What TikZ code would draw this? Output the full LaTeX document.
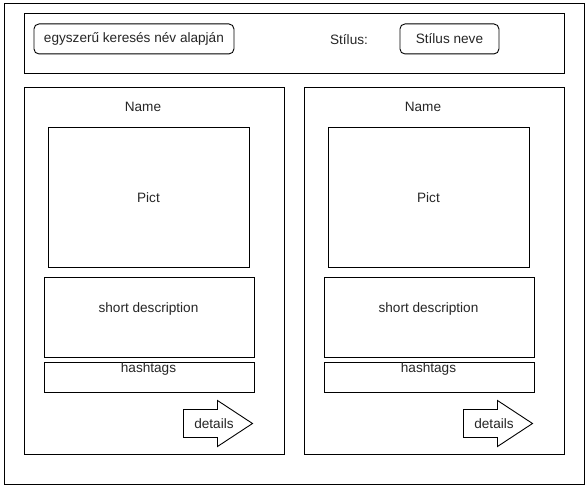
\documentclass[tikz,border=0pt]{standalone}
\usepackage{fontspec}
\setmainfont{Liberation Sans}
\begin{document}
\begin{tikzpicture}[x=1pt,y=-1pt,
  box/.style={draw=black,line width=0.9pt,rectangle,inner sep=0pt,anchor=north west},
  btn/.style={draw=black,line width=0.9pt,rectangle,rounded corners=5pt,inner sep=0pt,anchor=north west},
  lbl/.style={font=\fontsize{13.6}{15}\selectfont,inner sep=0pt,text=black!85}]
\useasboundingbox (0,0) rectangle (587,487);
\fill[white] (0,0) rectangle (587,487);
% outer frame
\node[box,minimum width=580,minimum height=480] (outer) at (3.5,3.5) {};
% top bar
\node[box,minimum width=540,minimum height=60] (bar) at (23.5,13.5) {};
\node[btn,minimum width=200,minimum height=30] (search) at (33.5,23.5) {};
\node[lbl] (searchlbl) at (search.center) {egyszerű keresés név alapján};
\node[lbl] (stlbl) at (349,40) {Stílus:};
\node[btn,minimum width=99,minimum height=30] (style) at (399.5,23.5) {};
\node[lbl] (stylelbl) at (style.center) {Stílus neve};
% cards
\foreach \dx/\n in {0/a,280/b}{
  \node[box,minimum width=260,minimum height=366] (card\n) at (23.5+\dx,87.5) {};
  \node[lbl] (name\n) at (143+\dx,107) {Name};
  \node[box,minimum width=201,minimum height=139] (pict\n) at (47.5+\dx,127.5) {};
  \node[lbl] (pictlbl\n) at (pict\n.center) {Pict};
  \node[box,minimum width=210,minimum height=80] (desc\n) at (43.5+\dx,276.5) {};
  \node[lbl] (desclbl\n) at (148.5+\dx,309) {short description};
  \node[box,minimum width=210,minimum height=30] (hash\n) at (43.5+\dx,361.5) {};
  \node[lbl] (hashlbl\n) at (148.5+\dx,369) {hashtags};
  \draw[line width=0.9pt] (183.5+\dx,409.5) -- (217.5+\dx,409.5) -- (217.5+\dx,400.5)
     -- (252.5+\dx,423.5) -- (217.5+\dx,446.5) -- (217.5+\dx,437.5) -- (183.5+\dx,437.5) -- cycle;
  \node[lbl] (det\n) at (214+\dx,424) {details};
}
\end{tikzpicture}
\end{document}
